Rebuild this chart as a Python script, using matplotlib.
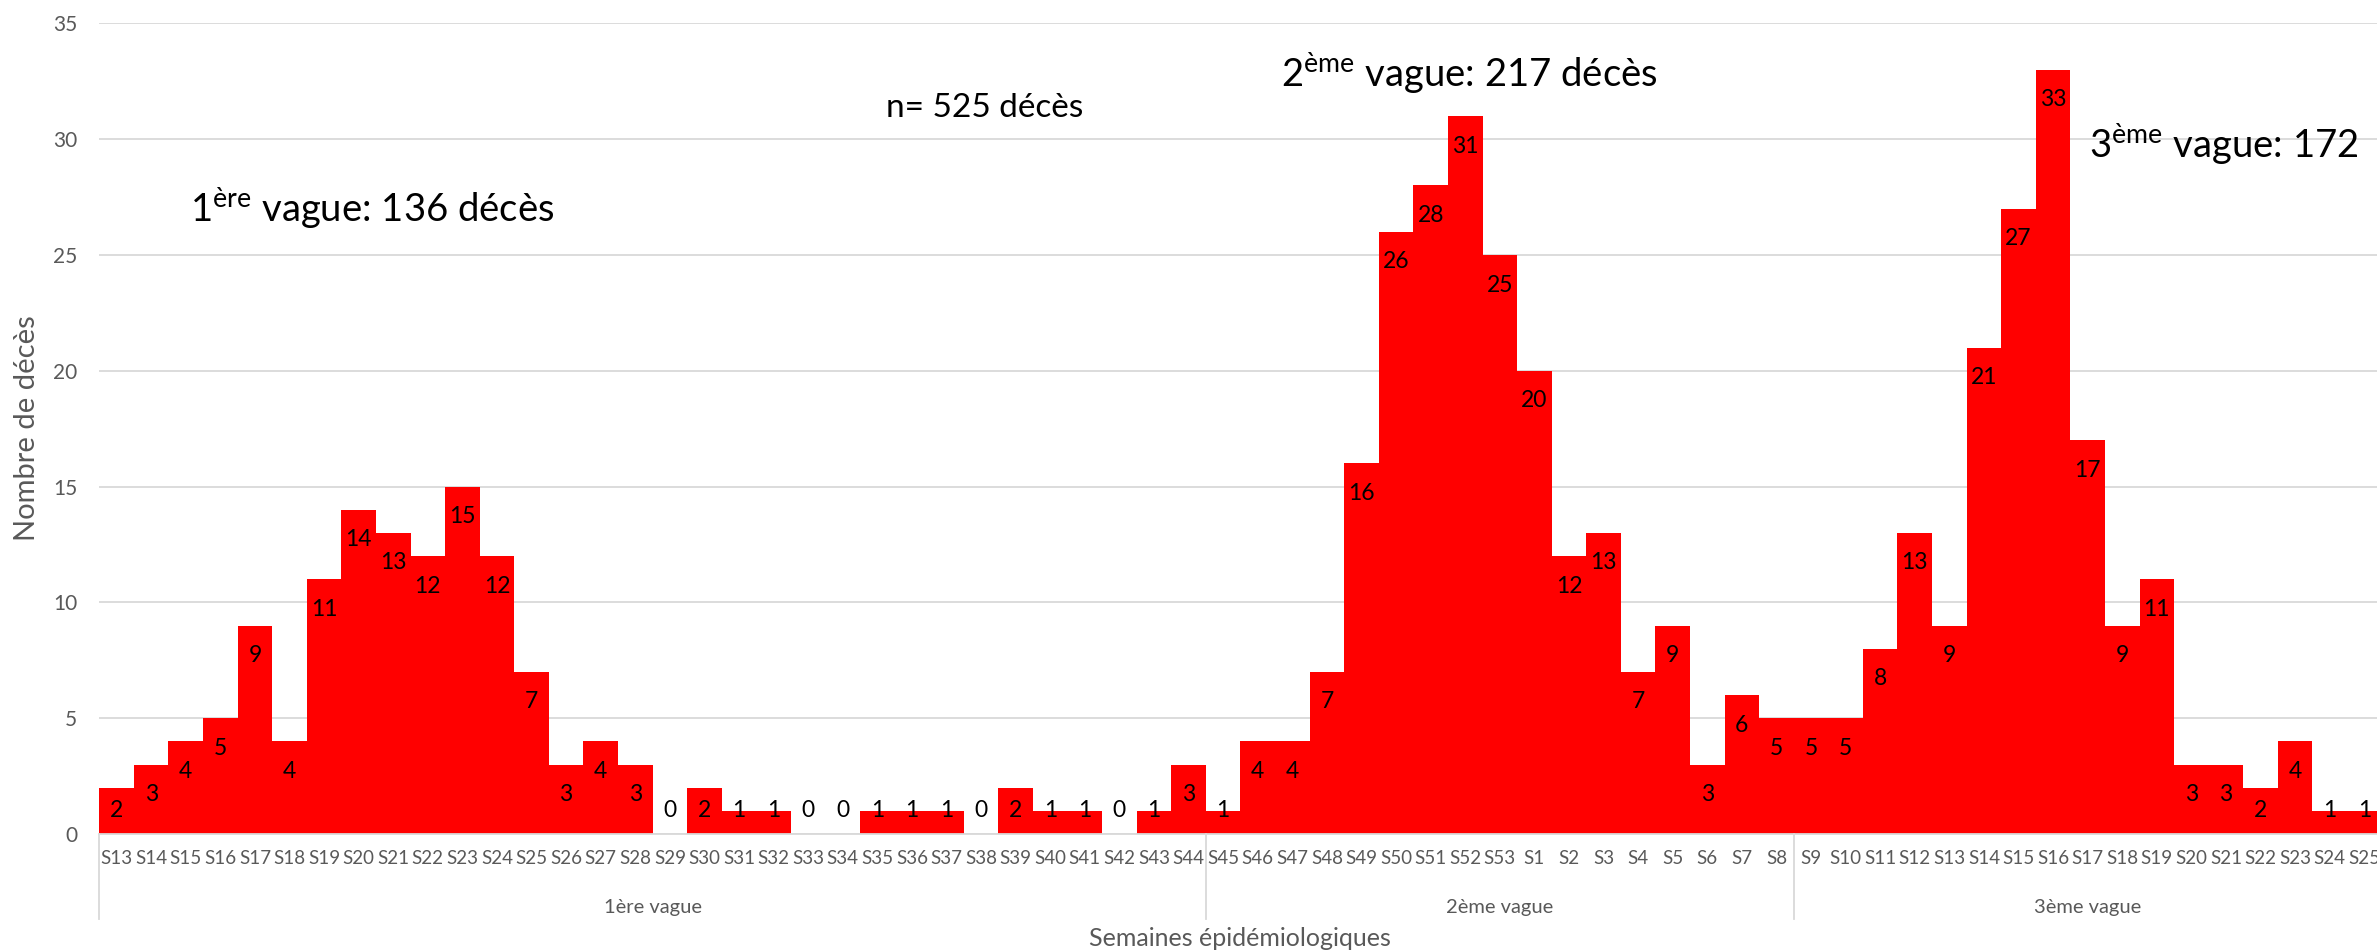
import matplotlib
matplotlib.use('Agg')
import matplotlib.pyplot as plt
import matplotlib.transforms as mtransforms
from matplotlib.lines import Line2D

# ---------------- data ----------------
weeks_w1 = ['S13', 'S14', 'S15', 'S16', 'S17', 'S18', 'S19', 'S20', 'S21', 'S22', 'S23',
            'S24', 'S25', 'S26', 'S27', 'S28', 'S29', 'S30', 'S31', 'S32', 'S33', 'S34',
            'S35', 'S36', 'S37', 'S38', 'S39', 'S40', 'S41', 'S42', 'S43', 'S44']
deaths_w1 = [2, 3, 4, 5, 9, 4, 11, 14, 13, 12, 15, 12, 7, 3, 4, 3, 0, 2, 1, 1, 0, 0,
             1, 1, 1, 0, 2, 1, 1, 0, 1, 3]

weeks_w2 = ['S45', 'S46', 'S47', 'S48', 'S49', 'S50', 'S51', 'S52', 'S53',
            'S1', 'S2', 'S3', 'S4', 'S5', 'S6', 'S7', 'S8']
deaths_w2 = [1, 4, 4, 7, 16, 26, 28, 31, 25, 20, 12, 13, 7, 9, 3, 6, 5]

weeks_w3 = ['S9', 'S10', 'S11', 'S12', 'S13', 'S14', 'S15', 'S16', 'S17', 'S18',
            'S19', 'S20', 'S21', 'S22', 'S23', 'S24', 'S25']
deaths_w3 = [5, 5, 8, 13, 9, 21, 27, 33, 17, 9, 11, 3, 3, 2, 4, 1, 1]

wave_labels = ['1ère vague', '2ème vague', '3ème vague']
y_ticks = [0, 5, 10, 15, 20, 25, 30, 35]

# ---------------- style ----------------
plt.rcParams['font.family'] = ['Lato', 'DejaVu Sans']
plt.rcParams['mathtext.fontset'] = 'custom'
plt.rcParams['mathtext.rm'] = 'Lato'
plt.rcParams['mathtext.it'] = 'Lato:italic'
plt.rcParams['mathtext.bf'] = 'Lato:bold'

W, H = 2377, 950
fig = plt.figure(figsize=(W / 100, H / 100), dpi=100)
x0, x1 = 99.3, 2381.6
y0, y1 = 834.0, 23.3
ax = fig.add_axes([x0 / W, (H - y0) / H, (x1 - x0) / W, (y0 - y1) / H])

weeks = weeks_w1 + weeks_w2 + weeks_w3
values = deaths_w1 + deaths_w2 + deaths_w3
xs = list(range(len(values)))

ax.bar(xs, values, width=1.0, color='#FF0000', linewidth=0, zorder=2)

for x, v in zip(xs, values):
    ax.text(x, max(v - 1.3, 1.0), str(v), ha='center', va='center',
            fontsize=16.5, color='black', zorder=3)

ax.set_xlim(-0.5, len(values) - 0.5)
ax.set_ylim(0, 35)
ax.set_yticks(y_ticks)
ax.yaxis.grid(True, color='#D9D9D9', linewidth=1.3)
ax.set_axisbelow(True)
for s in ['top', 'right', 'left']:
    ax.spines[s].set_visible(False)
ax.spines['bottom'].set_color('#D9D9D9')
ax.spines['bottom'].set_linewidth(1.3)

ax.set_xticks(xs)
ax.set_xticklabels(weeks)
ax.tick_params(axis='both', length=0, labelcolor='#595959')
ax.tick_params(axis='y', pad=16, labelsize=15)
ax.tick_params(axis='x', pad=11.5, labelsize=13.5)

# group separators and group labels
btr = mtransforms.blended_transform_factory(ax.transData, fig.transFigure)
n1, n2, n3 = len(deaths_w1), len(deaths_w2), len(deaths_w3)
bounds = [-0.5, n1 - 0.5, n1 + n2 - 0.5, n1 + n2 + n3 - 0.5]
for b in bounds[:3]:
    ax.add_line(Line2D([b, b], [(H - 834) / H, (H - 919) / H], transform=btr,
                       color='#D9D9D9', linewidth=1.3, clip_on=False))
for i, lab in enumerate(wave_labels):
    c = (bounds[i] + bounds[i + 1]) / 2
    ax.text(c, (H - 907) / H, lab, transform=btr, ha='center', va='center',
            fontsize=14.5, color='#595959')

# axis titles
fig.text(1240 / W, (H - 938) / H, 'Semaines épidémiologiques', ha='center', va='center',
         fontsize=18, color='#595959')
fig.text(27 / W, (H - 428) / H, 'Nombre de décès', ha='center', va='center',
         rotation=90, fontsize=21, color='#595959')

# annotations
fig.text(190 / W, (H - 222) / H, r'1$^{\mathrm{ère}}$ vague: 136 décès', ha='left',
         va='baseline', fontsize=27.5, color='black')
fig.text(886 / W, (H - 117) / H, 'n= 525 décès', ha='left', va='baseline',
         fontsize=24, color='black')
fig.text(1281 / W, (H - 87) / H, r'2$^{\mathrm{ème}}$ vague: 217 décès', ha='left',
         va='baseline', fontsize=27.5, color='black')
fig.text(2089 / W, (H - 158) / H, r'3$^{\mathrm{ème}}$ vague: 172', ha='left',
         va='baseline', fontsize=27.5, color='black')

fig.savefig('out.png', dpi=100)
